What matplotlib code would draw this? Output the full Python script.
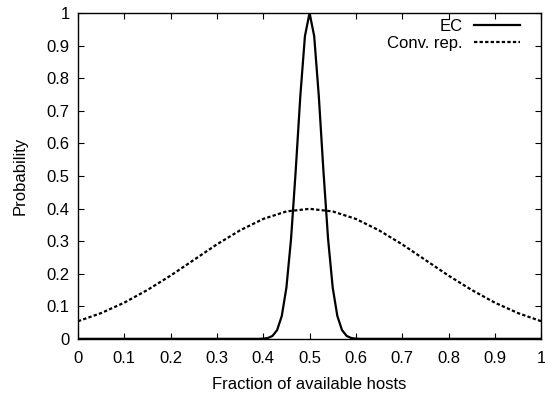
import matplotlib
matplotlib.use("Agg")
import matplotlib.pyplot as plt
import numpy as np

plt.rcParams['font.family'] = ['Liberation Sans', 'DejaVu Sans']

# EC curve (sharp peak around 0.5)
ec_x = [0.0, 0.39, 0.40, 0.41, 0.42, 0.43, 0.44, 0.45, 0.46, 0.47, 0.48, 0.49, 0.50,
        0.51, 0.52, 0.53, 0.54, 0.55, 0.56, 0.57, 0.58, 0.59, 0.60, 0.61, 1.0]
ec_y = [0.0, 0.0, 0.0006, 0.0025, 0.009, 0.027, 0.07, 0.157, 0.306, 0.514, 0.744, 0.929, 1.0,
        0.929, 0.744, 0.514, 0.306, 0.157, 0.07, 0.027, 0.009, 0.0025, 0.0006, 0.0, 0.0]

# conventional replication curve
conv_x = [0.0, 0.05, 0.1, 0.15, 0.2, 0.25, 0.3, 0.35, 0.4, 0.45, 0.5,
          0.55, 0.6, 0.65, 0.7, 0.75, 0.8, 0.85, 0.9, 0.95, 1.0]
conv_y = [0.054, 0.079, 0.111, 0.150, 0.194, 0.242, 0.290, 0.333, 0.368, 0.391, 0.399,
          0.391, 0.368, 0.333, 0.290, 0.242, 0.194, 0.150, 0.111, 0.079, 0.054]

ticks = [0, 0.1, 0.2, 0.3, 0.4, 0.5, 0.6, 0.7, 0.8, 0.9, 1]
tick_labels = ['0', '0.1', '0.2', '0.3', '0.4', '0.5', '0.6', '0.7', '0.8', '0.9', '1']

fs = 12

fig = plt.figure(figsize=(5.45, 3.94), dpi=100)
ax = fig.add_axes([0.143, 0.140, 0.850, 0.827])

ax.plot(ec_x, ec_y, color='black', lw=1.6, label='EC')
ax.plot(conv_x, conv_y, color='black', lw=1.6, linestyle=(0, (1.5, 1.0)), label='Conv. rep.')

ax.set_xlim(0, 1)
ax.set_ylim(0, 1)
ax.set_xticks(ticks)
ax.set_xticklabels(tick_labels)
ax.set_yticks(ticks)
ax.set_yticklabels(tick_labels)
ax.tick_params(direction='in', top=True, right=True, length=4, width=0.8, labelsize=fs)
ax.tick_params(axis='x', pad=9)
ax.tick_params(axis='y', pad=6)
for s in ax.spines.values():
    s.set_linewidth(1.0)

ax.set_xlabel('Fraction of available hosts', fontsize=fs, labelpad=8)
ax.set_ylabel('Probability', fontsize=fs, labelpad=13.5)

ax.legend(loc='upper right', bbox_to_anchor=(0.955, 0.982), frameon=False,
          markerfirst=False, fontsize=fs, handlelength=2.8, handletextpad=0.66,
          borderaxespad=0, borderpad=0, labelspacing=0.1)

fig.savefig('out.png', dpi=100)
